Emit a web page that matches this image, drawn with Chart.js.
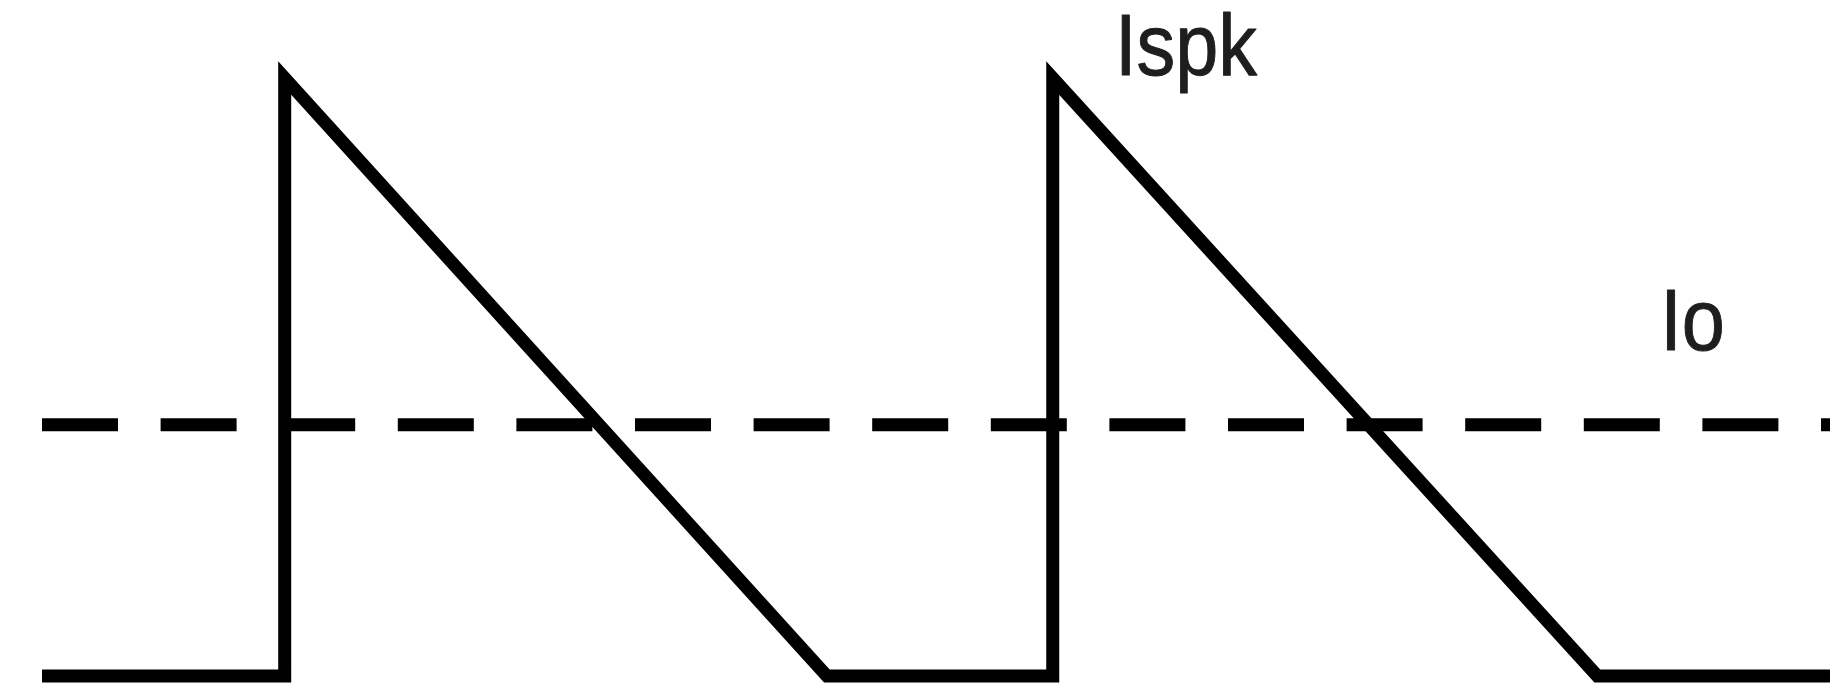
<!DOCTYPE html>
<html>
<head>
<meta charset="utf-8">
<script src="https://cdn.jsdelivr.net/npm/chart.js@4/dist/chart.umd.min.js"></script>
<style>
  html, body { margin: 0; padding: 0; background: #ffffff; }
  #wrap { width: 1830px; height: 692px; }
</style>
</head>
<body>
<div id="wrap"><canvas id="c" width="1830" height="692"></canvas></div>
<script>
// Switch current waveform (time in arbitrary units, current normalised to Ispk = 1)
const waveTimes   = [0, 3.16, 3.16, 10.22, 13.16, 13.16, 20.25, 23.28];
const waveCurrent = [0, 0,    1,    0,     0,     1,     0,     0];

// Average output current Io
const avgTimes   = [0, 23.28];
const avgCurrent = [0.42, 0.42];

// Annotations
const labelTexts = ['Ispk', 'Io'];
const labelTimes = [13.97, 21.07];
const labelLevels = [1.005, 0.545];

const wavePoints = waveTimes.map((t, i) => ({ x: t, y: waveCurrent[i] }));
const avgPoints = avgTimes.map((t, i) => ({ x: t, y: avgCurrent[i] }));

const labelPlugin = {
  id: 'waveLabels',
  afterDatasetsDraw(chart) {
    const { ctx, scales } = chart;
    ctx.save();
    ctx.fillStyle = '#1e1e1e';
    ctx.strokeStyle = '#1e1e1e';
    ctx.lineWidth = 1;
    ctx.lineJoin = 'round';
    ctx.font = '88px "Liberation Sans", Arial, sans-serif';
    ctx.textAlign = 'left';
    ctx.textBaseline = 'alphabetic';
    labelTexts.forEach((txt, i) => {
      const x = scales.x.getPixelForValue(labelTimes[i]);
      const y = scales.y.getPixelForValue(labelLevels[i]);
      ctx.save();
      ctx.translate(x, y);
      ctx.scale(0.88, 1);
      ctx.fillText(txt, 0, 0);
      ctx.strokeText(txt, 0, 0);
      ctx.restore();
    });
    ctx.restore();
  }
};

new Chart(document.getElementById('c'), {
  type: 'line',
  data: {
    datasets: [
      {
        label: 'I',
        data: wavePoints,
        borderColor: '#000000',
        borderWidth: 13,
        borderJoinStyle: 'miter',
        borderCapStyle: 'butt',
        pointRadius: 0,
        tension: 0,
        fill: false,
        clip: false
      },
      {
        label: 'Io',
        data: avgPoints,
        borderColor: '#000000',
        borderWidth: 13,
        borderDash: [76, 42.6],
        borderCapStyle: 'butt',
        pointRadius: 0,
        fill: false,
        clip: false
      }
    ]
  },
  options: {
    responsive: false,
    animation: false,
    devicePixelRatio: 1,
    layout: { padding: { left: 42, right: 0, top: 78, bottom: 16 } },
    plugins: { legend: { display: false }, tooltip: { enabled: false } },
    scales: {
      x: { type: 'linear', min: 0, max: 23.28, display: false },
      y: { type: 'linear', min: 0, max: 1, display: false }
    }
  },
  plugins: [labelPlugin]
});
</script>
</body>
</html>
